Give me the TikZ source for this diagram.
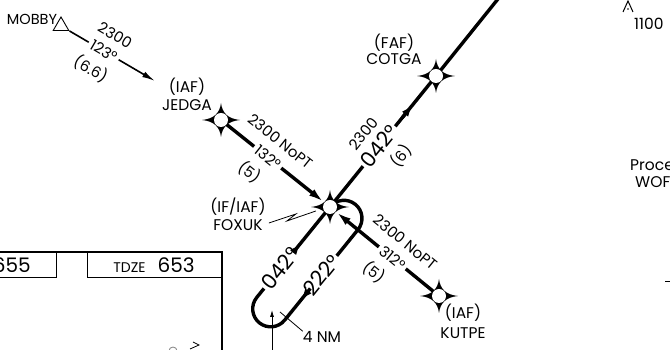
\documentclass[tikz,border=0pt]{standalone}
\usepackage{fontspec}
\setmainfont{Poppins}
\usetikzlibrary{positioning,arrows.meta,shapes.geometric,backgrounds,calc}

\tikzset{
  course/.style={line width=3.4pt},
  feeder/.style={line width=1.6pt},
  leader/.style={line width=0.8pt},
  fix/.style={circle, fill=white, inner sep=0pt, minimum size=14pt},
  fixname/.style={font=\fontsize{15.5}{17}\selectfont, inner sep=0pt},
  legmid/.style={font=\fontsize{15}{17}\selectfont, sloped, fill=white, inner sep=3pt},
  legup/.style={font=\fontsize{15}{17}\selectfont, sloped, above=13pt, inner sep=0pt},
  legdown/.style={font=\fontsize{15}{17}\selectfont, sloped, below=13pt, inner sep=0pt},
  crsbig/.style={font=\fontsize{21}{22}\selectfont, fill=white, inner sep=2pt},
  endtip/.style={-{Latex[length=16pt,width=8pt]}},
  midtip/.style={-{Latex[length=12pt,width=8pt]}},
  thintip/.style={-{Latex[length=13pt,width=6pt]}},
}

\begin{document}
\begin{tikzpicture}[x=1pt, y=1pt]
\useasboundingbox (0,0) rectangle (670,350);

% fixes
\foreach \n/\x/\y in {JEDGA/221/230, FOXUK/330/143, COTGA/436/274, KUTPE/439/54}
  \node[fix] (\n) at (\x,\y) {};
\node[draw, regular polygon, regular polygon sides=3, minimum size=18pt, inner sep=0pt, line width=0.9pt] (MOBBY) at (61,324) {};

% fix names
\node[fixname, font=\fontsize{14.5}{16}\selectfont] (MOBBYname) at (32,331) {MOBBY};
\node[fixname] (JEDGAname) at (187,245) {JEDGA};
\node[fixname, above=4pt of JEDGAname] (JEDGAtype) {(IAF)};
\node[fixname] (FOXUKname) at (238,125) {FOXUK};
\node[fixname, above=4pt of FOXUKname] (FOXUKtype) {(IF/IAF)};
\node[fixname] (COTGAname) at (394,291) {COTGA};
\node[fixname, above=2pt of COTGAname] (COTGAtype) {(FAF)};
\node[fixname] (KUTPEname) at (463,17) {KUTPE};
\node[fixname, above=6pt of KUTPEname] (KUTPEtype) {(IAF)};
\node[fixname] (fourNM) at (322,13) {4 NM};

% elevation box
\node[font=\fontsize{20}{22}\selectfont, anchor=east, inner sep=0pt] (elev) at (31,85) {655};
\node[inner sep=0pt] (tdze) at (154,85) {{\fontsize{14}{16}\selectfont TDZE}\hspace{12pt}{\fontsize{20}{22}\selectfont 653}};
\draw[line width=1.8pt] (-2,98) -- (222,98) -- (222,-2);
\draw[line width=0.8pt] (-2,73) -- (56,73) -- (56,98);
\draw[line width=0.8pt] (87,98) -- (87,73) -- (222,73);
\draw[leader] (190,1) -- (199,5) -- (193,8);
\draw[leader, gray] (169,-1) arc[start angle=180, end angle=0, radius=4];

% right edge
\draw[line width=1pt] (623,338) -- (628,349) -- (633,338);
\fill (628,341) circle (0.9);
\node[fixname, anchor=west] (obstacle) at (634,326) {1100};
\node[fixname, anchor=west] (procnote) at (630,185) {Proce};
\node[fixname, anchor=west] (procname) at (635,168) {WOF};

\begin{scope}[on background layer]
  \foreach \n in {JEDGA,FOXUK,COTGA,KUTPE}
    \fill[shift={(\n.center)}] (19,0) .. controls (7,1.2) and (1.2,7) .. (0,17)
      .. controls (-1.2,7) and (-7,1.2) .. (-19,0)
      .. controls (-7,-1.2) and (-1.2,-7) .. (0,-17)
      .. controls (1.2,-7) and (7,-1.2) .. cycle;

  % feeder
  \coordinate (MOBBYend) at (155,269);
  \draw[feeder, thintip] (MOBBY) -- node[pos=0.4, legmid] {123°} node[pos=0.42, legup] {2300} node[pos=0.38, legdown] {(6.6)} (MOBBYend);

  % initial segments
  \draw[course, endtip] (JEDGA) -- node[pos=0.42, legmid] {132°} node[pos=0.42, legup] {2300 NoPT} node[pos=0.38, legdown] {(5)} (FOXUK);
  \draw[course, {Latex[length=16pt,width=8pt]}-] (FOXUK) -- node[pos=0.58, legmid] {312°} node[pos=0.58, legup] {2300 NoPT} node[pos=0.54, legdown] {(5)} (KUTPE);

  % final approach
  \coordinate (FAend) at (510,366);
  \draw[course] (FOXUK) -- node[pos=0.46, legmid, crsbig] {042°} node[pos=0.46, legup] {2300} node[pos=0.5, legdown] {(6)} (COTGA) -- (FAend);
  \draw[course, midtip] ($(FOXUK)!0.68!(COTGA)$) -- ($(FOXUK)!0.78!(COTGA)$);

  % holding pattern
  \draw[course] (FOXUK.center) arc[start angle=141, end angle=-39, radius=18] coordinate (holdA)
    -- ++(-73.3,-90.5) coordinate (holdB)
    arc[start angle=-39, end angle=-219, radius=18] coordinate (holdC) -- (FOXUK.center);
  \node[crsbig, rotate=51] (holdout) at ($(holdA)!0.5!(holdB)$) {222°};
  \node[crsbig, rotate=51] (holdin) at ($(holdC)!0.32!(FOXUK)$) {042°};
  \draw[course, midtip] ($(holdA)!0.65!(holdB)$) -- ($(holdA)!0.78!(holdB)$);
  \draw[course, midtip] ($(holdC)!0.5!(FOXUK)$) -- ($(holdC)!0.6!(FOXUK)$);

  % leaders
  \draw[leader] ($(FOXUKname.east)+(6,2)$) -- ++(27,9) -- ++(-9,-7) -- ++(29,10);
  \coordinate (NMpt) at (280,38);
  \draw[leader] (fourNM.north west) -- (NMpt);
  \coordinate (crsfoot) at (272,-2);
  \coordinate (crshead) at (272,40);
  \draw[leader, -{Latex[length=7pt,width=4pt]}] (crsfoot) -- (crshead);
  \draw[leader] (665,69) -- (672,69);
\end{scope}
\end{tikzpicture}
\end{document}
